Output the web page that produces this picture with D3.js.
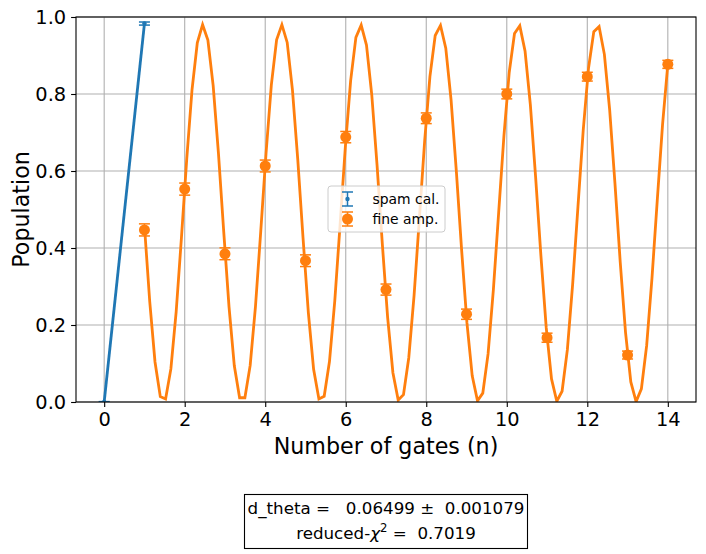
<!DOCTYPE html>
<html><head><meta charset="utf-8">
<script src="https://cdn.jsdelivr.net/npm/d3@7"></script>
<style>body{margin:0;background:#fff}text{font-family:"DejaVu Sans",sans-serif}</style>
</head><body><svg id="c" width="706" height="554"></svg>
<script>
// spam calibration points
const spamX = [0, 1];
const spamY = [0.0, 0.983];
const spamErr = [0.001, 0.004];
// fine amplitude data points
const ampX = [1,2,3,4,5,6,7,8,9,10,11,12,13,14];
const ampY = [0.447,0.553,0.385,0.613,0.367,0.688,0.292,0.737,0.228,0.800,0.167,0.845,0.122,0.877];
const ampErr = [0.0157,0.0157,0.0154,0.0154,0.0152,0.0147,0.0144,0.0139,0.0133,0.0126,0.0118,0.0114,0.0103,0.0104];
// fitted curve
const fitX = [1.0000,1.1313,1.2626,1.3939,1.5253,1.6566,1.7879,1.9192,2.0505,2.1818,2.3131,2.4444,2.5758,2.7071,2.8384,2.9697,3.1010,3.2323,3.3636,3.4949,3.6263,3.7576,3.8889,4.0202,4.1515,4.2828,4.4141,4.5455,4.6768,4.8081,4.9394,5.0707,5.2020,5.3333,5.4646,5.5960,5.7273,5.8586,5.9899,6.1212,6.2525,6.3838,6.5152,6.6465,6.7778,6.9091,7.0404,7.1717,7.3030,7.4343,7.5657,7.6970,7.8283,7.9596,8.0909,8.2222,8.3535,8.4848,8.6162,8.7475,8.8788,9.0101,9.1414,9.2727,9.4040,9.5354,9.6667,9.7980,9.9293,10.0606,10.1919,10.3232,10.4545,10.5859,10.7172,10.8485,10.9798,11.1111,11.2424,11.3737,11.5051,11.6364,11.7677,11.8990,12.0303,12.1616,12.2929,12.4242,12.5556,12.6869,12.8182,12.9495,13.0808,13.2121,13.3434,13.4747,13.6061,13.7374,13.8687,14.0000];
const fitY = [0.458,0.261,0.104,0.014,0.008,0.086,0.234,0.427,0.631,0.811,0.933,0.980,0.940,0.822,0.646,0.442,0.247,0.094,0.011,0.011,0.095,0.248,0.443,0.646,0.823,0.941,0.980,0.934,0.810,0.630,0.426,0.233,0.085,0.008,0.015,0.105,0.262,0.459,0.662,0.834,0.947,0.979,0.927,0.798,0.615,0.410,0.220,0.076,0.005,0.019,0.115,0.276,0.475,0.677,0.845,0.952,0.978,0.919,0.785,0.599,0.394,0.206,0.068,0.003,0.023,0.125,0.291,0.491,0.691,0.856,0.957,0.977,0.911,0.772,0.583,0.379,0.193,0.060,0.002,0.028,0.136,0.306,0.507,0.706,0.867,0.962,0.975,0.903,0.759,0.568,0.363,0.181,0.052,0.001,0.034,0.147,0.321,0.523,0.720,0.877];
const xTicks = [0,2,4,6,8,10,12,14];
const yTicks = [0.0,0.2,0.4,0.6,0.8,1.0];
const legendLabels = ["spam cal.", "fine amp."];

const BLUE = "#1f77b4", ORANGE = "#ff7f0e";
const L = 76, R = 696, T = 17, B = 402;
const svg = d3.select("#c");
const x = d3.scaleLinear().domain([-0.7, 14.7]).range([L, R]);
const y = d3.scaleLinear().domain([0, 1]).range([B, T]);

// grid
const g = svg.append("g");
g.selectAll(".gx").data(xTicks).enter().append("line")
  .attr("x1", d => x(d)).attr("x2", d => x(d)).attr("y1", T).attr("y2", B)
  .attr("stroke", "#b0b0b0").attr("stroke-width", 1.1);
g.selectAll(".gy").data(yTicks).enter().append("line")
  .attr("x1", L).attr("x2", R).attr("y1", d => y(d)).attr("y2", d => y(d))
  .attr("stroke", "#b0b0b0").attr("stroke-width", 1.1);

svg.append("clipPath").attr("id", "clp").append("rect")
  .attr("x", L).attr("y", T).attr("width", R - L).attr("height", B - T);
const plot = svg.append("g").attr("clip-path", "url(#clp)");

function errbars(xs, ys, es, color, r, cap, lw) {
  const gg = plot.append("g");
  xs.forEach((xv, i) => {
    const cx = x(xv), y1 = y(ys[i] - es[i]), y2 = y(ys[i] + es[i]);
    gg.append("line").attr("x1", cx).attr("x2", cx).attr("y1", y1).attr("y2", y2)
      .attr("stroke", color).attr("stroke-width", lw);
    [y1, y2].forEach(yy => gg.append("line").attr("x1", cx - cap).attr("x2", cx + cap)
      .attr("y1", yy).attr("y2", yy).attr("stroke", color).attr("stroke-width", lw));
    gg.append("circle").attr("cx", cx).attr("cy", y(ys[i])).attr("r", r).attr("fill", color);
  });
}

const line = d3.line().x(d => x(d[0])).y(d => y(d[1]));
plot.append("path").datum(spamX.map((v, i) => [v, spamY[i]]))
  .attr("d", line).attr("fill", "none").attr("stroke", BLUE).attr("stroke-width", 2.8);
errbars(spamX, spamY, spamErr, BLUE, 2.2, 5.5, 1.5);

errbars(ampX, ampY, ampErr, ORANGE, 5.5, 5.5, 1.5);
plot.append("path").datum(fitX.map((v, i) => [v, fitY[i]]))
  .attr("d", line).attr("fill", "none").attr("stroke", ORANGE).attr("stroke-width", 2.8);

// axes
const xa = svg.append("g").attr("transform", `translate(0,${B})`)
  .call(d3.axisBottom(x).tickValues(xTicks).tickFormat(d3.format("d")).tickSizeOuter(0).tickSize(4.9).tickPadding(4.9));
const ya = svg.append("g").attr("transform", `translate(${L},0)`)
  .call(d3.axisLeft(y).tickValues(yTicks).tickFormat(d3.format(".1f")).tickSizeOuter(0).tickSize(4.9).tickPadding(4.9));
[xa, ya].forEach(a => {
  a.select(".domain").remove();
  a.selectAll("line").attr("stroke", "#000").attr("stroke-width", 1.1);
  a.selectAll("text").attr("font-size", 19.4).attr("fill", "#000").attr("font-family", "DejaVu Sans");
});
svg.append("rect").attr("x", L).attr("y", T).attr("width", R - L).attr("height", B - T)
  .attr("fill", "none").attr("stroke", "#000").attr("stroke-width", 1.1);

// axis labels
svg.append("text").attr("x", (L + R) / 2).attr("y", 454).attr("text-anchor", "middle")
  .attr("font-size", 22.2).text("Number of gates (n)");
svg.append("text").attr("transform", `translate(29,${(T + B) / 2}) rotate(-90)`)
  .attr("text-anchor", "middle").attr("font-size", 22.2).text("Population");

// legend
const lg = svg.append("g").attr("transform", "translate(328,186)");
lg.append("rect").attr("width", 117).attr("height", 46).attr("rx", 3)
  .attr("fill", "#fff").attr("fill-opacity", 0.8).attr("stroke", "#cccccc");
const lgItems = [{c: BLUE, r: 2.2}, {c: ORANGE, r: 5.5}];
lgItems.forEach((it, i) => {
  const cy = 13 + i * 20, cx = 19.5;
  lg.append("line").attr("x1", cx).attr("x2", cx).attr("y1", cy - 7).attr("y2", cy + 7)
    .attr("stroke", it.c).attr("stroke-width", 1.5);
  [cy - 7, cy + 7].forEach(yy => lg.append("line").attr("x1", cx - 5.5).attr("x2", cx + 5.5)
    .attr("y1", yy).attr("y2", yy).attr("stroke", it.c).attr("stroke-width", 1.5));
  lg.append("circle").attr("cx", cx).attr("cy", cy).attr("r", it.r).attr("fill", it.c);
  lg.append("text").attr("x", 44.5).attr("y", cy + 5).attr("font-size", 13.9).text(legendLabels[i]);
});

// fit result box
const tb = svg.append("g");
tb.append("rect").attr("x", 244.5).attr("y", 494.5).attr("width", 283).attr("height", 54)
  .attr("fill", "#fff").attr("stroke", "#000").attr("stroke-width", 1.1);
tb.append("text").attr("x", 386).attr("y", 514).attr("text-anchor", "middle").attr("font-size", 16.7)
  .attr("xml:space", "preserve").text("d_theta =   0.06499 \u00b1  0.001079");
const t2 = tb.append("text").attr("x", 386).attr("y", 539).attr("text-anchor", "middle").attr("font-size", 16.7)
  .attr("xml:space", "preserve");
t2.append("tspan").text("reduced-");
t2.append("tspan").attr("font-style", "italic").text("\u03c7");
t2.append("tspan").attr("font-size", 11.7).attr("dy", -7).text("2");
t2.append("tspan").attr("dy", 7).text(" =  0.7019");
</script></body></html>
